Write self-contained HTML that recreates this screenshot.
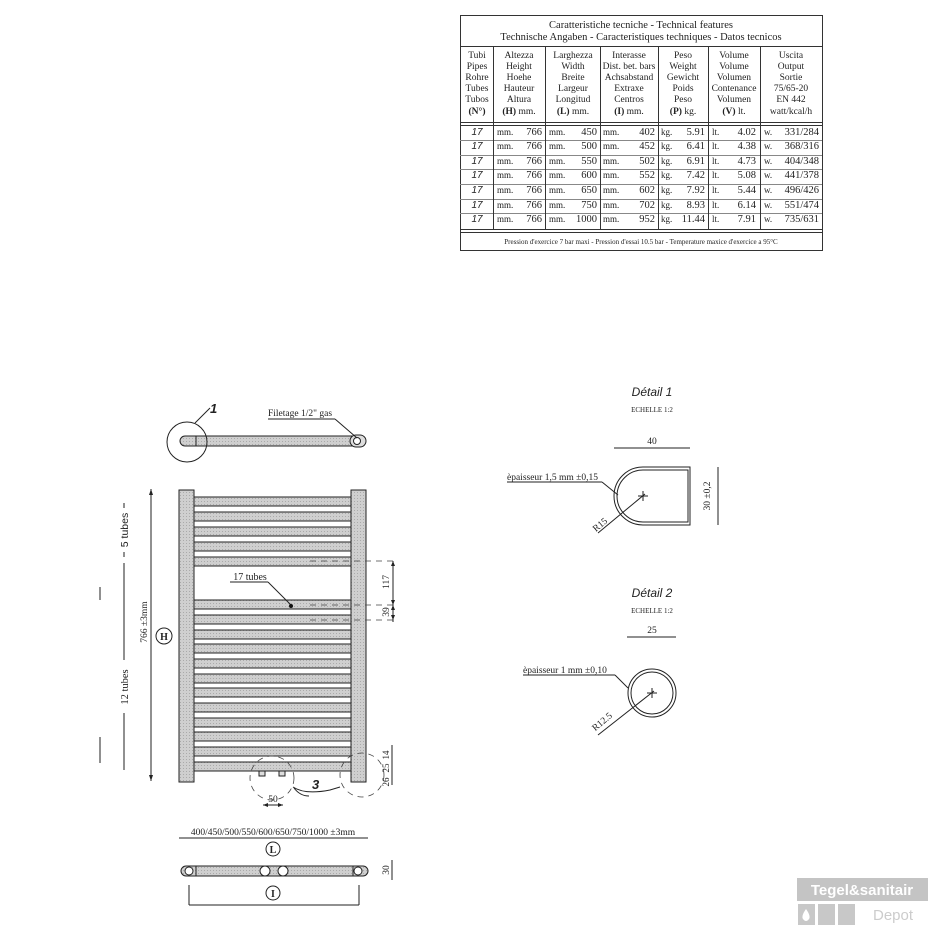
<!DOCTYPE html>
<html><head><meta charset="utf-8"><style>
html,body{margin:0;padding:0;background:#fff;}
svg{display:block;}
text{font-family:"Liberation Serif",serif;fill:#222;}
.s{font-family:"Liberation Sans",sans-serif;}
</style></head><body>
<svg width="928" height="928" viewBox="0 0 928 928" xmlns="http://www.w3.org/2000/svg">
<defs>
<pattern id="h" width="3" height="3" patternUnits="userSpaceOnUse">
<rect width="3" height="3" fill="#cfcfcf"/><rect width="1" height="1" fill="#aaa"/>
</pattern>
</defs>
<!-- TABLE -->
<g stroke="#333" fill="none" stroke-width="1">
<rect x="460.5" y="15.5" width="362" height="235"/>
<line x1="460" y1="46.5" x2="822" y2="46.5"/>
<line x1="460" y1="122.5" x2="822" y2="122.5"/>
<line x1="460" y1="125.5" x2="822" y2="125.5"/>
<line x1="460" y1="229.5" x2="822" y2="229.5"/>
<line x1="460" y1="232.5" x2="822" y2="232.5"/>
<g stroke="#888">
<line x1="460" y1="140.5" x2="822" y2="140.5"/><line x1="460" y1="155.5" x2="822" y2="155.5"/>
<line x1="460" y1="169.5" x2="822" y2="169.5"/><line x1="460" y1="184.5" x2="822" y2="184.5"/>
<line x1="460" y1="199.5" x2="822" y2="199.5"/><line x1="460" y1="213.5" x2="822" y2="213.5"/>
</g>
<line x1="493.5" y1="46" x2="493.5" y2="229"/><line x1="545.5" y1="46" x2="545.5" y2="229"/>
<line x1="600.5" y1="46" x2="600.5" y2="229"/><line x1="658.5" y1="46" x2="658.5" y2="229"/>
<line x1="708.5" y1="46" x2="708.5" y2="229"/><line x1="760.5" y1="46" x2="760.5" y2="229"/>
</g>
<g font-size="10.5" text-anchor="middle">
<text x="641" y="28">Caratteristiche tecniche - Technical features</text>
<text x="641" y="40">Technische Angaben - Caracteristiques techniques - Datos tecnicos</text>
</g>
<g font-size="9.5" text-anchor="middle">
<text x="477" y="58">Tubi</text><text x="477" y="69">Pipes</text><text x="477" y="80">Rohre</text><text x="477" y="91">Tubes</text><text x="477" y="102">Tubos</text><text x="477" y="114" font-weight="bold">(N°)</text>
<text x="519" y="58">Altezza</text><text x="519" y="69">Height</text><text x="519" y="80">Hoehe</text><text x="519" y="91">Hauteur</text><text x="519" y="102">Altura</text><text x="519" y="114"><tspan font-weight="bold">(H)</tspan> mm.</text>
<text x="573" y="58">Larghezza</text><text x="573" y="69">Width</text><text x="573" y="80">Breite</text><text x="573" y="91">Largeur</text><text x="573" y="102">Longitud</text><text x="573" y="114"><tspan font-weight="bold">(L)</tspan> mm.</text>
<text x="629" y="58">Interasse</text><text x="629" y="69">Dist. bet. bars</text><text x="629" y="80">Achsabstand</text><text x="629" y="91">Extraxe</text><text x="629" y="102">Centros</text><text x="629" y="114"><tspan font-weight="bold">(I)</tspan> mm.</text>
<text x="683" y="58">Peso</text><text x="683" y="69">Weight</text><text x="683" y="80">Gewicht</text><text x="683" y="91">Poids</text><text x="683" y="102">Peso</text><text x="683" y="114"><tspan font-weight="bold">(P)</tspan> kg.</text>
<text x="734" y="58">Volume</text><text x="734" y="69">Volume</text><text x="734" y="80">Volumen</text><text x="734" y="91">Contenance</text><text x="734" y="102">Volumen</text><text x="734" y="114"><tspan font-weight="bold">(V)</tspan> lt.</text>
<text x="791" y="58">Uscita</text><text x="791" y="69">Output</text><text x="791" y="80">Sortie</text><text x="791" y="91">75/65-20</text><text x="791" y="102">EN 442</text><text x="791" y="114">watt/kcal/h</text>
</g>
<g font-size="10.5">
<g class="s" font-style="italic" text-anchor="middle" font-size="10">
<text x="477" y="135" class="s">17</text><text x="477" y="149" class="s">17</text><text x="477" y="164" class="s">17</text><text x="477" y="178" class="s">17</text><text x="477" y="193" class="s">17</text><text x="477" y="208" class="s">17</text><text x="477" y="222" class="s">17</text>
</g>
<g font-size="9"><text x="497" y="135">mm.</text><text x="497" y="149">mm.</text><text x="497" y="164">mm.</text><text x="497" y="178">mm.</text><text x="497" y="193">mm.</text><text x="497" y="208">mm.</text><text x="497" y="222">mm.</text>
<text x="549" y="135">mm.</text><text x="549" y="149">mm.</text><text x="549" y="164">mm.</text><text x="549" y="178">mm.</text><text x="549" y="193">mm.</text><text x="549" y="208">mm.</text><text x="549" y="222">mm.</text>
<text x="603" y="135">mm.</text><text x="603" y="149">mm.</text><text x="603" y="164">mm.</text><text x="603" y="178">mm.</text><text x="603" y="193">mm.</text><text x="603" y="208">mm.</text><text x="603" y="222">mm.</text>
<text x="661" y="135">kg.</text><text x="661" y="149">kg.</text><text x="661" y="164">kg.</text><text x="661" y="178">kg.</text><text x="661" y="193">kg.</text><text x="661" y="208">kg.</text><text x="661" y="222">kg.</text>
<text x="712" y="135">lt.</text><text x="712" y="149">lt.</text><text x="712" y="164">lt.</text><text x="712" y="178">lt.</text><text x="712" y="193">lt.</text><text x="712" y="208">lt.</text><text x="712" y="222">lt.</text>
<text x="764" y="135">w.</text><text x="764" y="149">w.</text><text x="764" y="164">w.</text><text x="764" y="178">w.</text><text x="764" y="193">w.</text><text x="764" y="208">w.</text><text x="764" y="222">w.</text></g>
<g text-anchor="end">
<text x="542" y="135">766</text><text x="542" y="149">766</text><text x="542" y="164">766</text><text x="542" y="178">766</text><text x="542" y="193">766</text><text x="542" y="208">766</text><text x="542" y="222">766</text>
<text x="597" y="135">450</text><text x="597" y="149">500</text><text x="597" y="164">550</text><text x="597" y="178">600</text><text x="597" y="193">650</text><text x="597" y="208">750</text><text x="597" y="222">1000</text>
<text x="655" y="135">402</text><text x="655" y="149">452</text><text x="655" y="164">502</text><text x="655" y="178">552</text><text x="655" y="193">602</text><text x="655" y="208">702</text><text x="655" y="222">952</text>
<text x="705" y="135">5.91</text><text x="705" y="149">6.41</text><text x="705" y="164">6.91</text><text x="705" y="178">7.42</text><text x="705" y="193">7.92</text><text x="705" y="208">8.93</text><text x="705" y="222">11.44</text>
<text x="756" y="135">4.02</text><text x="756" y="149">4.38</text><text x="756" y="164">4.73</text><text x="756" y="178">5.08</text><text x="756" y="193">5.44</text><text x="756" y="208">6.14</text><text x="756" y="222">7.91</text>
<text x="819" y="135">331/284</text><text x="819" y="149">368/316</text><text x="819" y="164">404/348</text><text x="819" y="178">441/378</text><text x="819" y="193">496/426</text><text x="819" y="208">551/474</text><text x="819" y="222">735/631</text>
</g>
</g>
<text x="641" y="244" font-size="7" text-anchor="middle">Pression d'exercice 7 bar maxi - Pression d'essai 10.5 bar - Temperature maxice d'exercice a 95°C</text>

<!-- TOP VIEW -->
<g stroke="#222" stroke-width="1">
<rect x="180" y="436" width="185" height="10" rx="5" fill="url(#h)"/>
<line x1="196" y1="436" x2="196" y2="446"/>
<rect x="350" y="435" width="16" height="12" rx="6" fill="#ddd"/>
<circle cx="357" cy="441" r="3.5" fill="#fff"/>
<circle cx="187" cy="442" r="20" fill="none"/>
<line x1="195" y1="423" x2="210" y2="408" fill="none"/>
<polyline points="335,419 357,438" fill="none"/>
<line x1="268" y1="419" x2="335" y2="419"/>
</g>
<text x="210" y="413" font-size="13" font-style="italic" class="s" font-weight="bold">1</text>
<text x="268" y="416" font-size="9.5">Filetage 1/2" gas</text>

<!-- FRONT VIEW -->
<g stroke="#222" stroke-width="1" fill="url(#h)">
<rect x="194" y="497" width="157" height="9"/><rect x="194" y="512" width="157" height="9"/>
<rect x="194" y="527" width="157" height="9"/><rect x="194" y="542" width="157" height="9"/>
<rect x="194" y="557" width="157" height="9"/>
<rect x="194" y="600" width="157" height="9"/><rect x="194" y="615" width="157" height="9"/>
<rect x="194" y="630" width="157" height="9"/><rect x="194" y="644" width="157" height="9"/>
<rect x="194" y="659" width="157" height="9"/><rect x="194" y="674" width="157" height="9"/>
<rect x="194" y="688" width="157" height="9"/><rect x="194" y="703" width="157" height="9"/>
<rect x="194" y="718" width="157" height="9"/><rect x="194" y="732" width="157" height="9"/>
<rect x="194" y="747" width="157" height="9"/><rect x="194" y="762" width="157" height="9"/>
<rect x="179" y="490" width="15" height="292"/>
<rect x="351" y="490" width="15" height="292"/>
<rect x="259" y="771" width="6" height="5" fill="#ddd"/><rect x="279" y="771" width="6" height="5" fill="#ddd"/>
</g>
<g stroke="#444" stroke-width="0.8" fill="none" stroke-dasharray="6,5">
<line x1="310" y1="561" x2="396" y2="561"/><line x1="310" y1="605" x2="396" y2="605"/><line x1="310" y1="620" x2="396" y2="620"/>
<circle cx="272" cy="778" r="22"/><circle cx="362" cy="775" r="22"/>
</g>
<g stroke="#222" stroke-width="1" fill="none">
<line x1="393" y1="561" x2="393" y2="622"/>
<line x1="392" y1="745" x2="392" y2="785"/>
<line x1="151" y1="489" x2="151" y2="781"/>
<line x1="124" y1="503" x2="124" y2="508"/><line x1="124" y1="552" x2="124" y2="557"/>
<line x1="124" y1="563" x2="124" y2="660"/><line x1="124" y1="713" x2="124" y2="770"/>
<line x1="100" y1="587" x2="100" y2="600"/><line x1="100" y1="737" x2="100" y2="763"/>
<line x1="230" y1="582" x2="268" y2="582"/><line x1="268" y1="582" x2="291" y2="605"/>
<path d="M293,787 Q305,795 330,790 L340,787"/><path d="M294,788 Q300,796 309,796"/>
<line x1="263" y1="805" x2="283" y2="805"/>
<circle cx="164" cy="636" r="8"/>
</g>
<g fill="#222">
<path d="M151,489 l-2,6 h4z"/><path d="M151,781 l-2,-6 h4z"/>
<path d="M393,561 l-2,5 h4z"/><path d="M393,605 l-2,-5 h4z"/><path d="M393,605 l-2,5 h4z"/><path d="M393,620 l-2,-5 h4z"/>
<path d="M263,805 l5,-2 v4z"/><path d="M283,805 l-5,-2 v4z"/>
</g>
<circle cx="291" cy="606" r="2" fill="#111"/>
<text x="250" y="580" font-size="10" text-anchor="middle">17 tubes</text>
<text transform="translate(128,530) rotate(-90)" font-size="10.5" text-anchor="middle" class="s">5 tubes</text>
<text transform="translate(128,687) rotate(-90)" font-size="10.5" text-anchor="middle">12 tubes</text>
<text transform="translate(147,622) rotate(-90)" font-size="9.5" text-anchor="middle">766 ±3mm</text>
<text x="164" y="640" font-size="10" text-anchor="middle" font-weight="bold">H</text>
<text transform="translate(389,582) rotate(-90)" font-size="9.5" text-anchor="middle">117</text>
<text transform="translate(389,612) rotate(-90)" font-size="9.5" text-anchor="middle">39</text>
<text transform="translate(389,755) rotate(-90)" font-size="9" text-anchor="middle">14</text>
<text transform="translate(389,768) rotate(-90)" font-size="9" text-anchor="middle">25</text>
<text transform="translate(389,782) rotate(-90)" font-size="9" text-anchor="middle">26</text>
<text x="312" y="789" font-size="13" font-style="italic" font-weight="bold" class="s">3</text>
<text x="273" y="802" font-size="9.5" text-anchor="middle">50</text>

<!-- BOTTOM VIEW -->
<g stroke="#222" stroke-width="1">
<line x1="179" y1="838" x2="368" y2="838"/>
<rect x="181" y="866" width="187" height="10" rx="5" fill="url(#h)"/>
<line x1="196" y1="866" x2="196" y2="876"/><line x1="353" y1="866" x2="353" y2="876"/>
<circle cx="189" cy="871" r="4" fill="#fff"/><circle cx="358" cy="871" r="4" fill="#fff"/>
<circle cx="265" cy="871" r="5" fill="#fff"/><circle cx="283" cy="871" r="5" fill="#fff"/>
<circle cx="273" cy="849" r="7" fill="none"/><circle cx="273" cy="893" r="7" fill="none"/>
<line x1="189" y1="885" x2="189" y2="905"/><line x1="359" y1="885" x2="359" y2="905"/>
<line x1="189" y1="905" x2="359" y2="905"/>
<line x1="392" y1="860" x2="392" y2="880"/>
</g>
<text x="273" y="835" font-size="9.5" text-anchor="middle">400/450/500/550/600/650/750/1000 ±3mm</text>
<text x="273" y="853" font-size="10" text-anchor="middle" font-weight="bold">L</text>
<text x="273" y="897" font-size="10" text-anchor="middle" font-weight="bold">I</text>
<text transform="translate(389,870) rotate(-90)" font-size="9.5" text-anchor="middle">30</text>

<!-- DETAIL 1 -->
<text x="652" y="396" font-size="12" font-style="italic" text-anchor="middle" class="s">Détail 1</text>
<text x="652" y="412" font-size="7" text-anchor="middle">ECHELLE 1:2</text>
<g stroke="#222" fill="none">
<line x1="614" y1="448" x2="690" y2="448"/>
<path d="M690,467 L643,467 A29,29 0 0 0 643,525 L690,525 Z" stroke-width="1"/>
<path d="M688,470 L643,470 A26,26 0 0 0 643,522 L688,522 Z" stroke-width="1"/>
<line x1="718" y1="467" x2="718" y2="525"/>
<line x1="507" y1="482" x2="602" y2="482"/><line x1="602" y1="482" x2="618" y2="495"/>
<line x1="598" y1="533" x2="645" y2="494"/>
<line x1="638" y1="496" x2="648" y2="496"/><line x1="643" y1="491" x2="643" y2="501"/>
</g>
<text x="652" y="444" font-size="9.5" text-anchor="middle">40</text>
<text x="507" y="480" font-size="9.5">èpaisseur 1,5 mm ±0,15</text>
<text transform="translate(710,496) rotate(-90)" font-size="9.5" text-anchor="middle">30 ±0,2</text>
<text transform="translate(602,527) rotate(-40)" font-size="9.5" text-anchor="middle">R15</text>

<!-- DETAIL 2 -->
<text x="652" y="597" font-size="12" font-style="italic" text-anchor="middle" class="s">Détail 2</text>
<text x="652" y="613" font-size="7" text-anchor="middle">ECHELLE 1:2</text>
<g stroke="#222" fill="none">
<line x1="627" y1="637" x2="676" y2="637"/>
<circle cx="652" cy="693" r="24"/><circle cx="652" cy="693" r="21"/>
<line x1="523" y1="675" x2="615" y2="675"/><line x1="615" y1="675" x2="628" y2="688"/>
<line x1="598" y1="735" x2="654" y2="691"/>
<line x1="647" y1="693" x2="657" y2="693"/><line x1="652" y1="688" x2="652" y2="698"/>
</g>
<text x="652" y="633" font-size="9.5" text-anchor="middle">25</text>
<text x="523" y="673" font-size="9.5">èpaisseur 1 mm ±0,10</text>
<text transform="translate(604,724) rotate(-40)" font-size="9.5" text-anchor="middle">R12.5</text>

<!-- WATERMARK -->
<rect x="797" y="878" width="131" height="23" fill="#c4c4c4"/>
<text x="862" y="895" font-size="15" font-weight="bold" text-anchor="middle" class="s" style="fill:#fff">Tegel&amp;sanitair</text>
<rect x="798" y="904" width="17" height="21" fill="#c8c8c8"/>
<rect x="818" y="904" width="17" height="21" fill="#c8c8c8"/>
<rect x="838" y="904" width="17" height="21" fill="#c8c8c8"/>
<path d="M806,909 Q801,916 803,919 Q806,923 809,919 Q811,916 806,909Z" fill="#fff"/>
<text x="873" y="920" font-size="15" class="s" style="fill:#ccc">Depot</text>
</svg>
</body></html>
